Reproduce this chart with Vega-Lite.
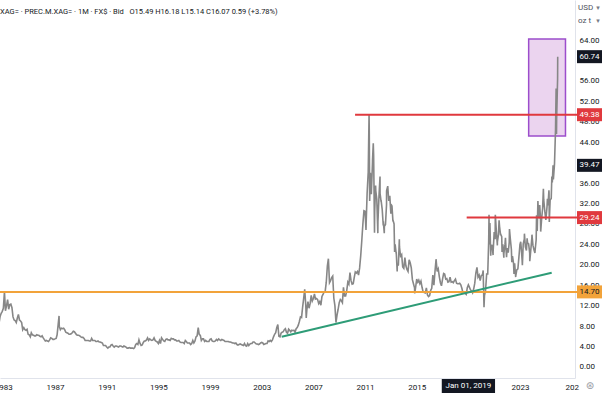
{
"$schema": "https://vega.github.io/schema/vega-lite/v6.json",
"width": 575, "height": 378, "padding": {"left": 0, "top": 0, "right": 27, "bottom": 16}, "autosize": "none", "background": "white",
"config": {"view": {"stroke": null}, "font": "Roboto", "axis": {"labelOverlap": false, "labelFlush": false}, "axisY": {"labelOverlap": false}},
"title": {"text": "XAG= · PREC.M.XAG= · 1M · FX$ · Bid\u00a0\u00a0\u00a0O15.49 H16.18 L15.14 C16.07 0.59 (+3.78%)", "anchor": "start", "frame": "group", "orient": "top", "offset": -15, "fontSize": 7.5, "fontWeight": "normal", "color": "#131722", "font": "Roboto"},
"layer": [
{"data": {"values": [{"s": "2023-09-02", "e": "2026-07-09", "top": 64.2, "bottom": 45.21}]},
 "mark": {"type": "rect", "fill": "#9c27b0", "fillOpacity": 0.2, "stroke": "#9c4dcc", "strokeWidth": 1.5},
 "encoding": {
  "x": {"field": "s", "type": "temporal", "title": null, "scale": {"type": "utc", "domain": [{"year": 1982, "month": 9, "date": 28, "utc": true}, {"year": 2027, "month": 4, "date": 4, "utc": true}]},
   "axis": {"title": null, "values": [{"year":1983,"utc":true},{"year":1987,"utc":true},{"year":1991,"utc":true},{"year":1995,"utc":true},{"year":1999,"utc":true},{"year":2003,"utc":true},{"year":2007,"utc":true},{"year":2011,"utc":true},{"year":2015,"utc":true},{"year":2019,"utc":true},{"year":2023,"utc":true},{"year":2027,"utc":true}], "format": "%Y", "labelExpr": "datum.label == '2019' ? '' : (datum.label == '2027' ? '202' : datum.label)", "labelFontSize": 8, "labelColor": "#131722", "labelPadding": 5, "ticks": false, "grid": false, "domainColor": "#e0e3eb", "labelFlush": false, "labelOverlap": false, "labelBound": false, "zindex": 0, "labelFont": "Roboto"}},
  "x2": {"field": "e"},
  "y": {"field": "top", "type": "quantitative", "title": null, "scale": {"domain": [-2.153, 71.83], "nice": false, "zero": false},
   "axis": {"title": null, "orient": "right", "values": [0,4,8,12,16,20,24,28,32,36,40,44,48,52,56,60,64], "tickCount": 17, "format": ".2f", "labelFontSize": 8, "labelColor": "#131722", "labelPadding": 4, "ticks": false, "grid": false, "domainColor": "#e0e3eb", "labelOverlap": false, "labelSeparation": 0, "labelBound": false, "zindex": 0, "labelFont": "Roboto"}},
  "y2": {"field": "bottom"}}},
{"data": {"values": [
{"d":"1982-08","p":7.2},{"d":"1982-09","p":8.6},{"d":"1982-10","p":9.9},{"d":"1982-11","p":10.5},{"d":"1982-12","p":10.9},
{"d":"1983-01","p":11.5},{"d":"1983-02","p":14.7},{"d":"1983-03","p":11.0},{"d":"1983-04","p":12.0},{"d":"1983-05","p":13.2},{"d":"1983-06","p":11.3},{"d":"1983-07","p":12.2},{"d":"1983-08","p":12.3},{"d":"1983-09","p":11.6},{"d":"1983-10","p":9.8},{"d":"1983-11","p":9.2},{"d":"1983-12","p":9.1},
{"d":"1984-01","p":8.7},{"d":"1984-02","p":9.6},{"d":"1984-03","p":10.3},{"d":"1984-04","p":9.2},{"d":"1984-05","p":9.0},{"d":"1984-06","p":8.7},{"d":"1984-07","p":7.3},{"d":"1984-08","p":7.7},{"d":"1984-09","p":7.3},{"d":"1984-10","p":7.2},{"d":"1984-11","p":7.4},{"d":"1984-12","p":6.4},
{"d":"1985-01","p":6.3},{"d":"1985-02","p":5.9},{"d":"1985-03","p":6.7},{"d":"1985-04","p":6.3},{"d":"1985-05","p":6.2},{"d":"1985-06","p":6.1},{"d":"1985-07","p":6.1},{"d":"1985-08","p":6.3},{"d":"1985-09","p":6.2},{"d":"1985-10","p":6.2},{"d":"1985-11","p":6.0},{"d":"1985-12","p":5.9},
{"d":"1986-01","p":6.1},{"d":"1986-02","p":5.7},{"d":"1986-03","p":5.4},{"d":"1986-04","p":5.1},{"d":"1986-05","p":5.2},{"d":"1986-06","p":5.1},{"d":"1986-07","p":5.0},{"d":"1986-08","p":5.3},{"d":"1986-09","p":5.7},{"d":"1986-10","p":5.6},{"d":"1986-11","p":5.4},{"d":"1986-12","p":5.4},
{"d":"1987-01","p":5.5},{"d":"1987-02","p":5.6},{"d":"1987-03","p":6.3},{"d":"1987-04","p":8.4},{"d":"1987-04-25","p":10.0},{"d":"1987-05","p":8.0},{"d":"1987-06","p":7.3},{"d":"1987-07","p":7.6},{"d":"1987-08","p":7.5},{"d":"1987-09","p":7.6},{"d":"1987-10","p":7.3},{"d":"1987-11","p":6.8},{"d":"1987-12","p":6.7},
{"d":"1988-01","p":6.6},{"d":"1988-02","p":6.4},{"d":"1988-03","p":6.4},{"d":"1988-04","p":6.5},{"d":"1988-05","p":6.7},{"d":"1988-06","p":7.0},{"d":"1988-07","p":6.9},{"d":"1988-08","p":6.6},{"d":"1988-09","p":6.3},{"d":"1988-10","p":6.2},{"d":"1988-11","p":6.2},{"d":"1988-12","p":6.1},
{"d":"1989-01","p":5.9},{"d":"1989-02","p":5.8},{"d":"1989-03","p":5.8},{"d":"1989-04","p":5.6},{"d":"1989-05","p":5.2},{"d":"1989-06","p":5.2},{"d":"1989-07","p":5.2},{"d":"1989-08","p":5.2},{"d":"1989-09","p":5.1},{"d":"1989-10","p":5.1},{"d":"1989-11","p":5.6},{"d":"1989-12","p":5.2},
{"d":"1990-01","p":5.2},{"d":"1990-02","p":5.2},{"d":"1990-03","p":5.0},{"d":"1990-04","p":5.0},{"d":"1990-05","p":5.1},{"d":"1990-06","p":4.9},{"d":"1990-07","p":4.9},{"d":"1990-08","p":4.8},{"d":"1990-09","p":4.7},{"d":"1990-10","p":4.2},{"d":"1990-11","p":4.2},{"d":"1990-12","p":4.2},
{"d":"1991-01","p":3.9},{"d":"1991-02","p":3.7},{"d":"1991-03","p":3.9},{"d":"1991-04","p":3.9},{"d":"1991-05","p":4.3},{"d":"1991-06","p":4.4},{"d":"1991-07","p":4.1},{"d":"1991-08","p":3.9},{"d":"1991-09","p":4.1},{"d":"1991-10","p":4.1},{"d":"1991-11","p":4.0},{"d":"1991-12","p":3.9},
{"d":"1992-01","p":4.1},{"d":"1992-02","p":4.1},{"d":"1992-03","p":4.0},{"d":"1992-04","p":3.9},{"d":"1992-05","p":4.1},{"d":"1992-06","p":4.0},{"d":"1992-07","p":3.9},{"d":"1992-08","p":3.7},{"d":"1992-09","p":3.7},{"d":"1992-10","p":3.8},{"d":"1992-11","p":3.7},{"d":"1992-12","p":3.7},
{"d":"1993-01","p":3.7},{"d":"1993-02","p":3.6},{"d":"1993-03","p":3.8},{"d":"1993-04","p":4.4},{"d":"1993-05","p":4.6},{"d":"1993-06","p":4.4},{"d":"1993-07","p":5.3},{"d":"1993-08","p":4.6},{"d":"1993-09","p":4.2},{"d":"1993-10","p":4.3},{"d":"1993-11","p":4.8},{"d":"1993-12","p":5.1},
{"d":"1994-01","p":5.1},{"d":"1994-02","p":5.3},{"d":"1994-03","p":5.7},{"d":"1994-04","p":5.2},{"d":"1994-05","p":5.5},{"d":"1994-06","p":5.3},{"d":"1994-07","p":5.2},{"d":"1994-08","p":5.3},{"d":"1994-09","p":5.7},{"d":"1994-10","p":5.2},{"d":"1994-11","p":5.0},{"d":"1994-12","p":4.9},
{"d":"1995-01","p":4.6},{"d":"1995-02","p":5.2},{"d":"1995-03","p":4.6},{"d":"1995-04","p":5.7},{"d":"1995-05","p":5.4},{"d":"1995-06","p":5.1},{"d":"1995-07","p":5.0},{"d":"1995-08","p":5.4},{"d":"1995-09","p":5.5},{"d":"1995-10","p":5.3},{"d":"1995-11","p":5.3},{"d":"1995-12","p":5.2},
{"d":"1996-01","p":5.6},{"d":"1996-02","p":5.5},{"d":"1996-03","p":5.5},{"d":"1996-04","p":5.3},{"d":"1996-05","p":5.3},{"d":"1996-06","p":5.1},{"d":"1996-07","p":5.1},{"d":"1996-08","p":5.2},{"d":"1996-09","p":4.9},{"d":"1996-10","p":4.8},{"d":"1996-11","p":4.8},{"d":"1996-12","p":4.8},
{"d":"1997-01","p":4.6},{"d":"1997-02","p":5.2},{"d":"1997-03","p":5.0},{"d":"1997-04","p":4.7},{"d":"1997-05","p":4.7},{"d":"1997-06","p":4.7},{"d":"1997-07","p":4.4},{"d":"1997-08","p":4.6},{"d":"1997-09","p":5.2},{"d":"1997-10","p":4.7},{"d":"1997-11","p":5.1},{"d":"1997-12","p":5.9},
{"d":"1998-01","p":6.1},{"d":"1998-02","p":7.7},{"d":"1998-03","p":6.4},{"d":"1998-04","p":6.2},{"d":"1998-05","p":5.2},{"d":"1998-06","p":5.5},{"d":"1998-07","p":5.5},{"d":"1998-08","p":5.0},{"d":"1998-09","p":5.2},{"d":"1998-10","p":5.0},{"d":"1998-11","p":5.0},{"d":"1998-12","p":5.0},
{"d":"1999-01","p":5.4},{"d":"1999-02","p":5.5},{"d":"1999-03","p":5.1},{"d":"1999-04","p":5.0},{"d":"1999-05","p":5.0},{"d":"1999-06","p":5.1},{"d":"1999-07","p":5.4},{"d":"1999-08","p":5.2},{"d":"1999-09","p":5.5},{"d":"1999-10","p":5.3},{"d":"1999-11","p":5.2},{"d":"1999-12","p":5.4},
{"d":"2000-01","p":5.3},{"d":"2000-02","p":5.2},{"d":"2000-03","p":5.0},{"d":"2000-04","p":5.0},{"d":"2000-05","p":5.0},{"d":"2000-06","p":5.0},{"d":"2000-07","p":4.9},{"d":"2000-08","p":4.9},{"d":"2000-09","p":4.8},{"d":"2000-10","p":4.7},{"d":"2000-11","p":4.7},{"d":"2000-12","p":4.6},
{"d":"2001-01","p":4.7},{"d":"2001-02","p":4.4},{"d":"2001-03","p":4.3},{"d":"2001-04","p":4.4},{"d":"2001-05","p":4.5},{"d":"2001-06","p":4.4},{"d":"2001-07","p":4.3},{"d":"2001-08","p":4.2},{"d":"2001-09","p":4.6},{"d":"2001-10","p":4.2},{"d":"2001-11","p":4.1},{"d":"2001-12","p":4.6},
{"d":"2002-01","p":4.2},{"d":"2002-02","p":4.5},{"d":"2002-03","p":4.6},{"d":"2002-04","p":4.6},{"d":"2002-05","p":4.9},{"d":"2002-06","p":4.9},{"d":"2002-07","p":4.7},{"d":"2002-08","p":4.5},{"d":"2002-09","p":4.5},{"d":"2002-10","p":4.4},{"d":"2002-11","p":4.5},{"d":"2002-12","p":4.7},
{"d":"2003-01","p":4.8},{"d":"2003-02","p":4.7},{"d":"2003-03","p":4.4},{"d":"2003-04","p":4.5},{"d":"2003-05","p":4.6},{"d":"2003-06","p":4.6},{"d":"2003-07","p":5.1},{"d":"2003-08","p":5.0},{"d":"2003-09","p":5.2},{"d":"2003-10","p":5.0},{"d":"2003-11","p":5.3},{"d":"2003-12","p":5.9},
{"d":"2004-01","p":6.4},{"d":"2004-02","p":6.7},{"d":"2004-03","p":7.7},{"d":"2004-04","p":8.3},{"d":"2004-05","p":6.0},{"d":"2004-06","p":5.9},{"d":"2004-07","p":6.6},{"d":"2004-08","p":6.8},{"d":"2004-09","p":6.9},{"d":"2004-10","p":7.3},{"d":"2004-11","p":7.5},{"d":"2004-12","p":6.8},
{"d":"2005-01","p":6.6},{"d":"2005-02","p":7.4},{"d":"2005-03","p":7.2},{"d":"2005-04","p":6.9},{"d":"2005-05","p":7.2},{"d":"2005-06","p":7.1},{"d":"2005-07","p":7.2},{"d":"2005-08","p":6.8},{"d":"2005-09","p":7.5},{"d":"2005-10","p":7.7},{"d":"2005-11","p":8.2},{"d":"2005-12","p":8.9},
{"d":"2006-01","p":9.8},{"d":"2006-02","p":9.7},{"d":"2006-03","p":11.6},{"d":"2006-04","p":13.4},{"d":"2006-05","p":15.2},{"d":"2006-06","p":12.0},{"d":"2006-06-13","p":9.6},{"d":"2006-07","p":11.2},{"d":"2006-08","p":12.8},{"d":"2006-09","p":11.5},{"d":"2006-10","p":12.4},{"d":"2006-11","p":14.0},{"d":"2006-12","p":12.9},
{"d":"2007-01","p":13.4},{"d":"2007-02","p":14.3},{"d":"2007-03","p":13.3},{"d":"2007-04","p":13.4},{"d":"2007-05","p":13.2},{"d":"2007-06","p":12.4},{"d":"2007-07","p":12.8},{"d":"2007-08","p":12.1},{"d":"2007-09","p":13.8},{"d":"2007-10","p":14.2},{"d":"2007-11","p":14.7},{"d":"2007-12","p":14.8},
{"d":"2008-01","p":16.6},{"d":"2008-02","p":19.8},{"d":"2008-03","p":21.2},{"d":"2008-04","p":16.5},{"d":"2008-05","p":16.9},{"d":"2008-06","p":17.5},{"d":"2008-07","p":17.8},{"d":"2008-08","p":13.5},{"d":"2008-09","p":12.0},{"d":"2008-10","p":8.7},{"d":"2008-11","p":10.2},{"d":"2008-12","p":11.3},
{"d":"2009-01","p":12.6},{"d":"2009-02","p":13.2},{"d":"2009-03","p":13.0},{"d":"2009-04","p":12.6},{"d":"2009-05","p":15.6},{"d":"2009-06","p":13.9},{"d":"2009-07","p":13.9},{"d":"2009-08","p":14.9},{"d":"2009-09","p":16.6},{"d":"2009-10","p":16.2},{"d":"2009-11","p":18.5},{"d":"2009-12","p":16.9},
{"d":"2010-01","p":16.2},{"d":"2010-02","p":16.3},{"d":"2010-03","p":17.5},{"d":"2010-04","p":18.6},{"d":"2010-05","p":18.4},{"d":"2010-06","p":18.7},{"d":"2010-07","p":18.0},{"d":"2010-08","p":19.4},{"d":"2010-09","p":21.8},{"d":"2010-10","p":24.7},{"d":"2010-11","p":28.0},{"d":"2010-12","p":30.6},
{"d":"2011-01","p":30.5},{"d":"2011-01-28","p":26.8},{"d":"2011-02","p":28.0},{"d":"2011-03","p":34.0},{"d":"2011-03-30","p":37.9},{"d":"2011-04","p":38.0},{"d":"2011-04-25","p":49.5},{"d":"2011-05","p":46.0},{"d":"2011-05-12","p":32.5},{"d":"2011-06","p":38.0},{"d":"2011-06-28","p":33.8},{"d":"2011-07","p":34.5},{"d":"2011-07-31","p":40.0},{"d":"2011-08","p":40.5},{"d":"2011-08-22","p":43.8},{"d":"2011-09","p":41.5},{"d":"2011-09-26","p":26.3},{"d":"2011-10","p":30.5},{"d":"2011-10-27","p":35.5},{"d":"2011-11","p":34.5},{"d":"2011-11-30","p":32.8},{"d":"2011-12","p":32.5},{"d":"2011-12-29","p":26.2},
{"d":"2012-01","p":28.5},{"d":"2012-01-31","p":33.5},{"d":"2012-02-29","p":37.3},{"d":"2012-03","p":34.0},{"d":"2012-03-31","p":32.3},{"d":"2012-04","p":32.5},{"d":"2012-05","p":30.8},{"d":"2012-05-30","p":27.7},{"d":"2012-06","p":28.5},{"d":"2012-06-28","p":26.2},{"d":"2012-07","p":27.5},{"d":"2012-08","p":27.9},{"d":"2012-08-31","p":31.8},{"d":"2012-09","p":34.5},{"d":"2012-10-04","p":35.4},{"d":"2012-11","p":32.5},{"d":"2012-12","p":33.5},{"d":"2012-12-31","p":30.0},
{"d":"2013-01","p":31.9},{"d":"2013-02","p":31.5},{"d":"2013-02-28","p":28.5},{"d":"2013-03","p":28.8},{"d":"2013-04","p":28.0},{"d":"2013-04-16","p":22.5},{"d":"2013-05","p":24.0},{"d":"2013-05-31","p":22.2},{"d":"2013-06","p":22.5},{"d":"2013-06-28","p":18.7},{"d":"2013-07","p":19.8},{"d":"2013-08","p":20.0},{"d":"2013-08-28","p":25.0},{"d":"2013-09","p":23.5},{"d":"2013-10","p":21.7},{"d":"2013-11","p":22.0},{"d":"2013-12","p":19.6},
{"d":"2014-01","p":19.3},{"d":"2014-02","p":21.4},{"d":"2014-03","p":19.8},{"d":"2014-04","p":19.1},{"d":"2014-05","p":18.7},{"d":"2014-06","p":21.0},{"d":"2014-07","p":20.4},{"d":"2014-08","p":19.4},{"d":"2014-09","p":17.1},{"d":"2014-10","p":16.3},{"d":"2014-11","p":15.5},{"d":"2014-11-06","p":14.4},{"d":"2014-12","p":15.6},
{"d":"2015-01","p":17.2},{"d":"2015-02","p":16.6},{"d":"2015-03","p":17.0},{"d":"2015-04","p":16.3},{"d":"2015-05","p":16.8},{"d":"2015-06","p":15.6},{"d":"2015-07","p":14.7},{"d":"2015-08","p":14.6},{"d":"2015-09","p":14.5},{"d":"2015-10","p":15.5},{"d":"2015-11","p":14.1},{"d":"2015-12","p":13.8},
{"d":"2016-01","p":14.0},{"d":"2016-02","p":15.0},{"d":"2016-03","p":15.4},{"d":"2016-04","p":18.0},{"d":"2016-05","p":16.0},{"d":"2016-06","p":18.7},{"d":"2016-07","p":21.1},{"d":"2016-08","p":18.7},{"d":"2016-09","p":19.2},{"d":"2016-10","p":17.7},{"d":"2016-11","p":16.5},{"d":"2016-12","p":15.9},
{"d":"2017-01","p":17.2},{"d":"2017-02","p":18.3},{"d":"2017-03","p":18.2},{"d":"2017-04","p":17.2},{"d":"2017-05","p":17.3},{"d":"2017-06","p":16.6},{"d":"2017-07","p":16.7},{"d":"2017-08","p":17.6},{"d":"2017-09","p":16.6},{"d":"2017-10","p":16.7},{"d":"2017-11","p":16.5},{"d":"2017-12","p":16.9},
{"d":"2018-01","p":17.2},{"d":"2018-02","p":16.4},{"d":"2018-03","p":16.3},{"d":"2018-04","p":16.3},{"d":"2018-05","p":16.4},{"d":"2018-06","p":16.1},{"d":"2018-07","p":15.4},{"d":"2018-08","p":14.5},{"d":"2018-09","p":14.6},{"d":"2018-10","p":14.4},{"d":"2018-11","p":14.2},{"d":"2018-12","p":15.5},
{"d":"2019-01","p":16.07},{"d":"2019-02","p":15.6},{"d":"2019-03","p":15.1},{"d":"2019-04","p":14.9},{"d":"2019-05","p":14.5},{"d":"2019-06","p":15.3},{"d":"2019-07","p":16.4},{"d":"2019-08","p":18.4},{"d":"2019-09","p":19.5},{"d":"2019-10","p":17.6},{"d":"2019-11","p":18.0},{"d":"2019-12","p":16.9},
{"d":"2020-01","p":17.9},{"d":"2020-02","p":18.0},{"d":"2020-02-24","p":18.9},{"d":"2020-03","p":16.7},{"d":"2020-03-18","p":11.7},{"d":"2020-04","p":14.0},{"d":"2020-05","p":15.0},{"d":"2020-06","p":18.2},{"d":"2020-07","p":18.2},{"d":"2020-07-28","p":24.5},{"d":"2020-08-07","p":29.8},{"d":"2020-08-11","p":24.0},{"d":"2020-09","p":28.2},{"d":"2020-09-24","p":21.8},{"d":"2020-10","p":23.4},{"d":"2020-11","p":23.9},{"d":"2020-11-30","p":21.9},{"d":"2020-12","p":22.6},{"d":"2020-12-31","p":26.4},
{"d":"2021-01-27","p":25.0},{"d":"2021-02","p":29.8},{"d":"2021-03","p":26.7},{"d":"2021-03-31","p":23.8},{"d":"2021-04","p":24.5},{"d":"2021-05","p":25.9},{"d":"2021-05-18","p":28.7},{"d":"2021-06","p":27.5},{"d":"2021-06-30","p":25.8},{"d":"2021-07","p":26.0},{"d":"2021-08","p":25.5},{"d":"2021-08-10","p":22.5},{"d":"2021-09","p":24.0},{"d":"2021-09-30","p":21.4},{"d":"2021-10","p":22.2},{"d":"2021-11","p":24.0},{"d":"2021-11-15","p":25.3},{"d":"2021-12","p":23.0},{"d":"2021-12-15","p":21.5},
{"d":"2022-01","p":23.3},{"d":"2022-02","p":22.4},{"d":"2022-03","p":24.4},{"d":"2022-03-08","p":27.0},{"d":"2022-04","p":25.1},{"d":"2022-05","p":23.0},{"d":"2022-05-13","p":20.5},{"d":"2022-06","p":21.7},{"d":"2022-07","p":20.3},{"d":"2022-07-14","p":18.2},{"d":"2022-08","p":20.3},{"d":"2022-08-31","p":17.6},{"d":"2022-09","p":17.8},{"d":"2022-10","p":19.0},{"d":"2022-11","p":19.2},{"d":"2022-12","p":21.6},{"d":"2022-12-30","p":24.0},
{"d":"2023-01-20","p":24.5},{"d":"2023-02","p":23.5},{"d":"2023-03","p":20.9},{"d":"2023-03-08","p":19.9},{"d":"2023-04","p":24.1},{"d":"2023-05","p":25.0},{"d":"2023-05-05","p":26.1},{"d":"2023-06","p":23.5},{"d":"2023-07","p":22.8},{"d":"2023-07-20","p":25.2},{"d":"2023-08","p":24.3},{"d":"2023-09","p":24.1},{"d":"2023-10","p":22.3},{"d":"2023-10-03","p":20.7},{"d":"2023-11","p":22.9},{"d":"2023-12","p":25.3},{"d":"2023-12-04","p":25.9},
{"d":"2024-01","p":23.8},{"d":"2024-02","p":22.9},{"d":"2024-02-26","p":22.3},{"d":"2024-03","p":22.7},{"d":"2024-04","p":24.9},{"d":"2024-04-12","p":29.7},{"d":"2024-05","p":26.6},{"d":"2024-05-20","p":32.5},{"d":"2024-06","p":30.4},{"d":"2024-07","p":29.1},{"d":"2024-07-10","p":31.7},{"d":"2024-08","p":29.0},{"d":"2024-08-07","p":26.5},{"d":"2024-09","p":28.9},{"d":"2024-10","p":31.1},{"d":"2024-10-22","p":34.9},{"d":"2024-11","p":32.7},{"d":"2024-12","p":30.5},{"d":"2024-12-30","p":28.8},
{"d":"2025-01","p":28.9},{"d":"2025-02","p":31.3},{"d":"2025-02-13","p":32.9},{"d":"2025-03","p":31.6},{"d":"2025-03-28","p":34.6},{"d":"2025-04","p":34.1},{"d":"2025-04-07","p":28.4},{"d":"2025-05","p":32.7},{"d":"2025-06","p":33.0},{"d":"2025-06-18","p":37.3},{"d":"2025-07","p":36.1},{"d":"2025-07-23","p":39.5},{"d":"2025-08","p":36.7},{"d":"2025-09","p":39.7},{"d":"2025-10","p":46.6},{"d":"2025-10-17","p":54.5},{"d":"2025-10-28","p":45.6},{"d":"2025-11","p":48.7},{"d":"2025-11-28","p":56.4},{"d":"2025-12","p":60.74}
]},
 "mark": {"type": "line", "color": "#878787", "strokeWidth": 1.6},
 "encoding": {
  "x": {"field": "d", "type": "temporal", "title": null},
  "y": {"field": "p", "type": "quantitative", "title": null, "axis": {"title": null, "orient": "right", "values": [0,4,8,12,16,20,24,28,32,36,40,44,48,52,56,60,64], "tickCount": 17, "format": ".2f", "labelFontSize": 8, "labelColor": "#131722", "labelPadding": 4, "ticks": false, "grid": false, "domainColor": "#e0e3eb", "labelOverlap": false, "labelSeparation": 0, "labelBound": false, "zindex": 0, "labelFont": "Roboto"}}}},
{"data": {"values": [{"s": "2010-03-25", "v": 49.38, "k": "res"}, {"s": "2018-11-14", "v": 29.24, "k": "res"}, {"s": "1980-01-01", "v": 14.7, "k": "sup"}]},
 "mark": {"type": "rule", "strokeWidth": 2},
 "encoding": {
  "x": {"field": "s", "type": "temporal", "title": null},
  "x2": {"datum": {"year": 2027, "month": 6, "date": 1, "utc": true}},
  "y": {"field": "v", "type": "quantitative", "title": null},
  "color": {"field": "k", "type": "nominal", "legend": null, "scale": {"domain": ["last", "res", "cross", "sup"], "range": ["#131722", "#e0393e", "#131722", "#f2a33a"]}}}},
{"data": {"values": [{"d": "2004-07-19", "v": 5.93}, {"d": "2025-06-14", "v": 18.46}]},
 "mark": {"type": "line", "color": "#2e9c77", "strokeWidth": 2},
 "encoding": {
  "x": {"field": "d", "type": "temporal", "title": null},
  "y": {"field": "v", "type": "quantitative", "title": null}}},
{"data": {"values": [{"v": 60.74, "k": "last"}, {"v": 49.38, "k": "res"}, {"v": 39.47, "k": "cross"}, {"v": 29.24, "k": "res"}, {"v": 14.7, "k": "sup"}]},
 "layer": [
  {"mark": {"type": "rule", "strokeWidth": 13},
   "encoding": {
    "x": {"datum": {"year": 2027, "month": 5, "date": 30, "utc": true}, "type": "temporal"},
    "x2": {"datum": {"year": 2029, "month": 6, "date": 10, "utc": true}},
    "y": {"field": "v", "type": "quantitative", "title": null},
    "color": {"field": "k", "type": "nominal", "legend": null}}},
  {"mark": {"type": "text", "fontSize": 8, "align": "center", "baseline": "middle", "font": "Roboto"},
   "encoding": {
    "x": {"datum": {"year": 2028, "month": 5, "date": 19, "utc": true}, "type": "temporal"},
    "y": {"field": "v", "type": "quantitative", "title": null},
    "text": {"field": "v", "type": "quantitative", "format": ".2f"},
    "color": {"condition": {"test": "datum.k === 'sup'", "value": "#131722"}, "value": "#ffffff"}}}
 ]},
{"data": {"values": [{"t": "Jan 01, 2019"}]},
 "layer": [
  {"mark": {"type": "rect", "color": "#131722"},
   "encoding": {
    "x": {"datum": {"year": 2016, "month": 12, "date": 10, "utc": true}, "type": "temporal"},
    "x2": {"datum": {"year": 2021, "month": 1, "date": 24, "utc": true}},
    "y": {"datum": -2.35, "type": "quantitative"},
    "y2": {"datum": -5.09}}},
  {"mark": {"type": "text", "fontSize": 8, "color": "#ffffff", "align": "center", "baseline": "middle", "font": "Roboto"},
   "encoding": {
    "x": {"datum": {"year": 2019, "month": 1, "date": 1, "utc": true}, "type": "temporal"},
    "y": {"datum": -3.72, "type": "quantitative"},
    "text": {"field": "t"}}}
 ]},
{"data": {"values": [{"t": "USD", "c": "▾", "y": 70.21}, {"t": "oz t", "c": "▾", "y": 67.72}]},
 "layer": [
  {"mark": {"type": "text", "fontSize": 8, "color": "#50535e", "align": "left", "baseline": "middle", "font": "Roboto"},
   "encoding": {
    "x": {"datum": {"year": 2027, "month": 6, "date": 28, "utc": true}, "type": "temporal"},
    "y": {"field": "y", "type": "quantitative", "title": null},
    "text": {"field": "t"}}},
  {"mark": {"type": "text", "fontSize": 7, "color": "#787b86", "align": "center", "baseline": "middle", "font": "DejaVu Sans"},
   "encoding": {
    "x": {"datum": {"year": 2029, "month": 1, "date": 15, "utc": true}, "type": "temporal"},
    "y": {"field": "y", "type": "quantitative", "title": null},
    "text": {"field": "c"}}}
 ]},
{"data": {"values": [{"t": "⊛"}]},
 "mark": {"type": "text", "fontSize": 10, "color": "#9598a1", "align": "center", "baseline": "middle", "font": "DejaVu Sans"},
 "encoding": {
  "x": {"datum": {"year": 2028, "month": 6, "date": 2, "utc": true}, "type": "temporal"},
  "y": {"datum": -3.72, "type": "quantitative"},
  "text": {"field": "t"}}}
]
}
